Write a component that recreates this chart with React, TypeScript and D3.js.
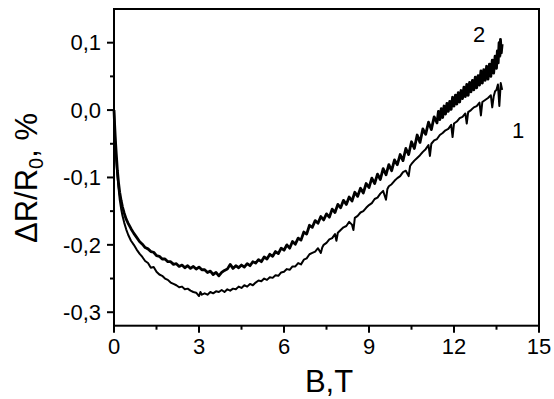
import React from "react";
import * as d3 from "d3";

const xTicks = [0, 3, 6, 9, 12, 15];
const xMinorTicks = [1.5, 4.5, 7.5, 10.5, 13.5];
const yTicks = [-0.3, -0.2, -0.1, 0.0, 0.1];
const yTickLabels = ["-0,3", "-0,2", "-0,1", "0,0", "0,1"];
const yMinorTicks = [-0.25, -0.15, -0.05, 0.05];

const curve1: [number, number][] = [
  [0, 0], [0.02, -0.025], [0.05, -0.052], [0.08, -0.075], [0.12, -0.097], [0.16, -0.115], [0.2, -0.132],
  [0.25, -0.146], [0.3, -0.157], [0.36, -0.167], [0.43, -0.177], [0.5, -0.185], [0.6, -0.194], [0.7, -0.2],
  [0.8, -0.207], [0.9, -0.213], [1.0, -0.218], [1.1, -0.224], [1.2, -0.227], [1.3, -0.234], [1.4, -0.233],
  [1.5, -0.24], [1.6, -0.244], [1.7, -0.246], [1.8, -0.25], [1.9, -0.252], [2.0, -0.256], [2.1, -0.258],
  [2.2, -0.26], [2.3, -0.263], [2.4, -0.262], [2.5, -0.266], [2.6, -0.265], [2.7, -0.268], [2.8, -0.27],
  [2.9, -0.271], [3.0, -0.276], [3.05, -0.27], [3.1, -0.274], [3.2, -0.272], [3.3, -0.274], [3.4, -0.27],
  [3.5, -0.272], [3.6, -0.269], [3.7, -0.27], [3.8, -0.267], [3.9, -0.27], [4.0, -0.266], [4.1, -0.268],
  [4.2, -0.265], [4.3, -0.266], [4.4, -0.262], [4.5, -0.264], [4.6, -0.26], [4.7, -0.262], [4.8, -0.258],
  [4.9, -0.26], [5.0, -0.256], [5.1, -0.253], [5.2, -0.254], [5.3, -0.25], [5.4, -0.252], [5.5, -0.248],
  [5.6, -0.249], [5.7, -0.245], [5.8, -0.246], [5.9, -0.241], [6.0, -0.24], [6.1, -0.236], [6.2, -0.237],
  [6.3, -0.232], [6.4, -0.232], [6.5, -0.227], [6.6, -0.229], [6.7, -0.222], [6.8, -0.22], [6.9, -0.214],
  [7.0, -0.212], [7.1, -0.21], [7.2, -0.205], [7.3, -0.212], [7.35, -0.204], [7.4, -0.2], [7.5, -0.197],
  [7.6, -0.192], [7.7, -0.19], [7.8, -0.184], [7.85, -0.194], [7.9, -0.182], [8.0, -0.178], [8.1, -0.174],
  [8.2, -0.172], [8.3, -0.166], [8.4, -0.17], [8.45, -0.178], [8.5, -0.16], [8.6, -0.157], [8.7, -0.152],
  [8.8, -0.15], [8.9, -0.145], [9.0, -0.141], [9.1, -0.138], [9.2, -0.132], [9.3, -0.13], [9.4, -0.124],
  [9.5, -0.12], [9.6, -0.133], [9.65, -0.117], [9.7, -0.113], [9.8, -0.11], [9.9, -0.105], [10.0, -0.101],
  [10.1, -0.098], [10.2, -0.092], [10.3, -0.09], [10.4, -0.098], [10.45, -0.083], [10.5, -0.08], [10.6, -0.075],
  [10.7, -0.071], [10.8, -0.067], [10.9, -0.062], [11.0, -0.058], [11.1, -0.052], [11.15, -0.068], [11.2, -0.05],
  [11.3, -0.045], [11.4, -0.043], [11.5, -0.037], [11.6, -0.034], [11.7, -0.03], [11.8, -0.028], [11.9, -0.022],
  [11.95, -0.04], [12.0, -0.02], [12.1, -0.017], [12.2, -0.012], [12.3, -0.01], [12.4, -0.005], [12.45, -0.02],
  [12.5, -0.003], [12.6, 0.0], [12.7, 0.004], [12.8, 0.006], [12.9, 0.011], [12.95, -0.008], [13.0, 0.012],
  [13.1, 0.015], [13.2, 0.018], [13.3, 0.022], [13.35, 0.004], [13.4, 0.02], [13.45, 0.028], [13.5, 0.03],
  [13.55, 0.038], [13.6, 0.006], [13.65, 0.04], [13.7, 0.03],
];

const curve2: [number, number][] = [
  [0, 0], [0.02, -0.02], [0.05, -0.045], [0.08, -0.065], [0.12, -0.09], [0.16, -0.108], [0.2, -0.122],
  [0.25, -0.134], [0.3, -0.144], [0.36, -0.153], [0.43, -0.162], [0.5, -0.168], [0.6, -0.176], [0.7, -0.183],
  [0.8, -0.189], [0.9, -0.195], [1.0, -0.199], [1.1, -0.204], [1.2, -0.206], [1.3, -0.21], [1.4, -0.211],
  [1.5, -0.216], [1.6, -0.217], [1.7, -0.221], [1.8, -0.221], [1.9, -0.225], [2.0, -0.225], [2.1, -0.229],
  [2.2, -0.228], [2.3, -0.232], [2.4, -0.23], [2.5, -0.234], [2.6, -0.231], [2.7, -0.235], [2.8, -0.232],
  [2.9, -0.236], [3.0, -0.233], [3.1, -0.237], [3.2, -0.237], [3.3, -0.241], [3.4, -0.239], [3.5, -0.244],
  [3.6, -0.241], [3.7, -0.246], [3.8, -0.241], [3.9, -0.238], [4.0, -0.236], [4.1, -0.229], [4.2, -0.235],
  [4.3, -0.231], [4.4, -0.234], [4.5, -0.23], [4.6, -0.233], [4.7, -0.228], [4.8, -0.231], [4.9, -0.225],
  [5.0, -0.227], [5.1, -0.222], [5.2, -0.225], [5.3, -0.218], [5.4, -0.221], [5.5, -0.214], [5.6, -0.217],
  [5.7, -0.21], [5.8, -0.213], [5.9, -0.205], [6.0, -0.208], [6.1, -0.2], [6.2, -0.205], [6.3, -0.195],
  [6.4, -0.199], [6.5, -0.19], [6.6, -0.193], [6.7, -0.181], [6.8, -0.184], [6.9, -0.171], [7.0, -0.174],
  [7.1, -0.164], [7.2, -0.168], [7.3, -0.158], [7.4, -0.163], [7.5, -0.154], [7.6, -0.159], [7.7, -0.147],
  [7.8, -0.152], [7.9, -0.14], [8.0, -0.145], [8.1, -0.134], [8.2, -0.14], [8.3, -0.129], [8.4, -0.135],
  [8.5, -0.122], [8.6, -0.128], [8.7, -0.116], [8.8, -0.123], [8.9, -0.109], [9.0, -0.115], [9.1, -0.101],
  [9.2, -0.109], [9.3, -0.095], [9.4, -0.103], [9.5, -0.087], [9.6, -0.096], [9.7, -0.081], [9.8, -0.09],
  [9.9, -0.074], [10.0, -0.081], [10.1, -0.066], [10.2, -0.075], [10.3, -0.057], [10.4, -0.066], [10.5, -0.047],
  [10.6, -0.057], [10.7, -0.037], [10.8, -0.048], [10.9, -0.028], [11.0, -0.036], [11.1, -0.018], [11.2, -0.029],
  [11.3, -0.01], [11.4, -0.019], [11.45, -0.002], [11.5, -0.014], [11.55, 0.002], [11.6, -0.011], [11.65, 0.006],
  [11.7, -0.006], [11.75, 0.01], [11.8, -0.002], [11.85, 0.013], [11.9, 0.001], [11.95, 0.019], [12.0, 0.006],
  [12.05, 0.022], [12.1, 0.009], [12.15, 0.026], [12.2, 0.012], [12.25, 0.029], [12.3, 0.017], [12.35, 0.034],
  [12.4, 0.02], [12.45, 0.038], [12.5, 0.022], [12.55, 0.041], [12.6, 0.027], [12.65, 0.044], [12.7, 0.03],
  [12.75, 0.049], [12.8, 0.033], [12.85, 0.051], [12.9, 0.037], [12.95, 0.058], [13.0, 0.04], [13.05, 0.06],
  [13.1, 0.044], [13.15, 0.065], [13.2, 0.046], [13.25, 0.068], [13.3, 0.05], [13.35, 0.074], [13.4, 0.055],
  [13.45, 0.08], [13.5, 0.062], [13.53, 0.088], [13.56, 0.07], [13.59, 0.1], [13.62, 0.08], [13.64, 0.105],
  [13.67, 0.085], [13.7, 0.098],
];

const W = 554;
const H = 399;
const left = 114;
const right = 539;
const top = 9;
const bottom = 325.7;
const font = "'Liberation Sans', Arial, sans-serif";

export default function App() {
  const x = d3.scaleLinear().domain([0, 15]).range([left, right]);
  const y = d3.scaleLinear().domain([-0.32, 0.15]).range([bottom, top]);
  const line = d3
    .line<[number, number]>()
    .x((d) => x(d[0]))
    .y((d) => y(d[1]));

  return (
    <svg
      width={W}
      height={H}
      style={{ position: "absolute", left: 0, top: 0, background: "#fff" }}
      fontFamily={font}
    >
      <rect x={0} y={0} width={W} height={H} fill="#fff" />
      <path d={line(curve1) || ""} fill="none" stroke="#000" strokeWidth={2} strokeLinejoin="round" />
      <path d={line(curve2) || ""} fill="none" stroke="#000" strokeWidth={2.8} strokeLinejoin="round" />
      <rect x={left} y={top} width={right - left} height={bottom - top} fill="none" stroke="#000" strokeWidth={2} />
      {xTicks.map((t) => (
        <g key={"xt" + t}>
          <line x1={x(t)} x2={x(t)} y1={bottom} y2={bottom + 7} stroke="#000" strokeWidth={2} />
          <text x={x(t)} y={354} fontSize={22} textAnchor="middle" fill="#000">
            {t}
          </text>
        </g>
      ))}
      {xMinorTicks.map((t) => (
        <line key={"xm" + t} x1={x(t)} x2={x(t)} y1={bottom} y2={bottom + 4} stroke="#000" strokeWidth={2} />
      ))}
      {yTicks.map((t, i) => (
        <g key={"yt" + t}>
          <line x1={left - 7} x2={left} y1={y(t)} y2={y(t)} stroke="#000" strokeWidth={2} />
          <text x={101} y={y(t) + 7.8} fontSize={22} textAnchor="end" fill="#000">
            {yTickLabels[i]}
          </text>
        </g>
      ))}
      {yMinorTicks.map((t) => (
        <line key={"ym" + t} x1={left - 4} x2={left} y1={y(t)} y2={y(t)} stroke="#000" strokeWidth={2} />
      ))}
      <text x={329} y={392} fontSize={31} textAnchor="middle" fill="#000">
        B,T
      </text>
      <text transform="translate(37,178) rotate(-90)" fontSize={31} textAnchor="middle" fill="#000">
        ΔR/R<tspan fontSize={20} dy={6}>0</tspan>
        <tspan dy={-6}>, %</tspan>
      </text>
      <text x={479} y={42} fontSize={22} textAnchor="middle" fill="#000">
        2
      </text>
      <text x={518} y={138} fontSize={22} textAnchor="middle" fill="#000">
        1
      </text>
    </svg>
  );
}
